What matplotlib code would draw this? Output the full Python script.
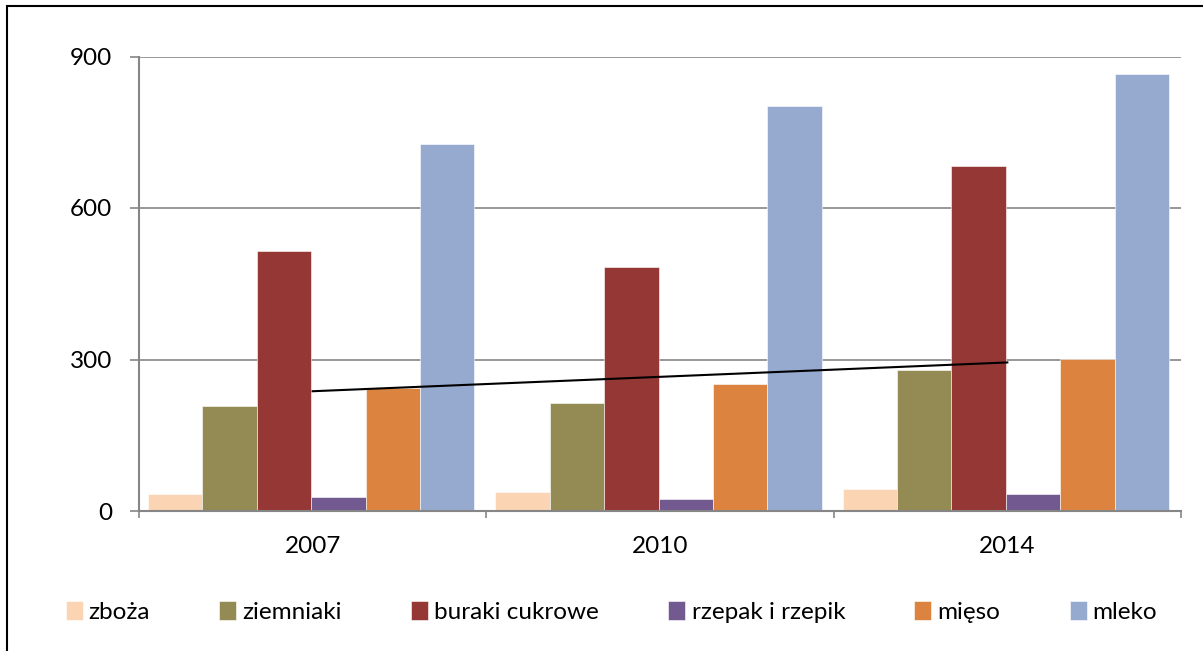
import numpy as np
import matplotlib.pyplot as plt
from matplotlib.patches import Rectangle

# Data
years = ['2007', '2010', '2014']
series = ['zboża', 'ziemniaki', 'buraki cukrowe', 'rzepak i rzepik', 'mięso', 'mleko']
zboza = [34, 37, 44]
ziemniaki = [208, 213, 280]
buraki = [515, 484, 684]
rzepak = [27, 23, 34]
mieso = [244, 252, 301]
mleko = [726, 802, 866]
values = [zboza, ziemniaki, buraki, rzepak, mieso, mleko]
colors = ['#FBD4B4', '#948A54', '#953735', '#72598F', '#DC8340', '#96AAD0']

plt.rcParams['font.family'] = ['Lato', 'DejaVu Sans']
fs = 17.5

fig = plt.figure(figsize=(12.03, 6.51), dpi=100)
ax = fig.add_axes([139 / 1203, 1 - 511 / 651, (1181 - 139) / 1203, (511 - 56.5) / 651])

x = np.arange(len(years))
bw = 0.94 / 6
start = -0.5 + 9 / 348
for i, (name, vals, c) in enumerate(zip(series, values, colors)):
    ax.bar(x + start + bw * (i + 0.5), vals, width=bw, color=c, label=name,
           edgecolor='white', linewidth=0.4, zorder=2)

# linear trend line for "mięso"
k, b = np.polyfit(x, mieso, 1)
ax.plot(x, k * x + b, color='black', linewidth=1.5, zorder=3)

ax.set_xlim(-0.5, 2.5)
ax.set_ylim(0, 900)
ax.set_yticks([0, 300, 600, 900])
ax.yaxis.grid(True, color='#868686', linewidth=1.2, zorder=0)
ax.set_axisbelow(True)

for s in ['top', 'right']:
    ax.spines[s].set_visible(False)
for s in ['left', 'bottom']:
    ax.spines[s].set_color('#868686')
    ax.spines[s].set_linewidth(1.5)

ax.tick_params(axis='y', length=6.5, width=1.2, color='#868686', pad=13, labelsize=fs)
ax.set_xticks(x)
ax.set_xticklabels(years)
ax.set_xticks([-0.5, 0.5, 1.5, 2.5], minor=True)
ax.tick_params(axis='x', which='major', length=0, pad=18, labelsize=fs)
ax.tick_params(axis='x', which='minor', length=5, width=1.2, color='#868686')

fig.legend(loc='center', bbox_to_anchor=(0.5083, 1 - 612 / 651), ncol=6, frameon=False,
           fontsize=fs, handlelength=0.7, handleheight=0.8, handletextpad=0.25,
           columnspacing=2.85)

fig.patches.append(Rectangle((7 / 1203, -0.05), 1.2, 1.05 - 6 / 651,
                             transform=fig.transFigure, fill=False,
                             edgecolor='black', linewidth=1.5))

fig.savefig('out.png', dpi=100)
